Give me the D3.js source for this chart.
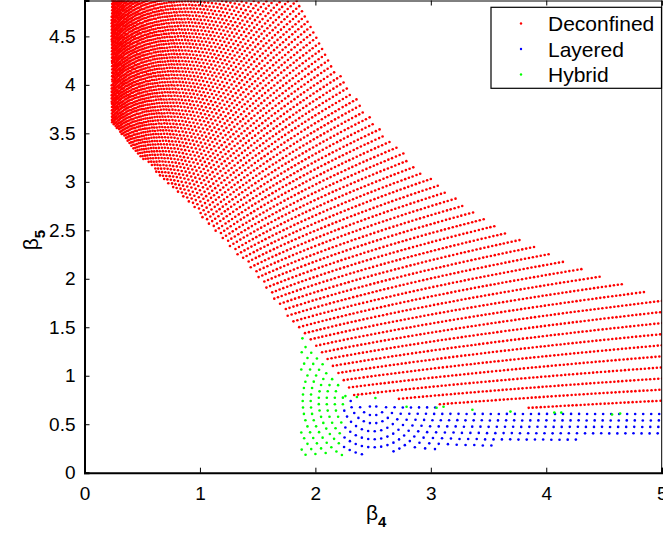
<!DOCTYPE html>
<html>
<head>
<meta charset="utf-8">
<script src="https://cdn.jsdelivr.net/npm/d3@7"></script>
<style>
body { margin:0; background:#fff; }
text { font-family: "Liberation Sans", Arial, sans-serif; fill:#000; }
</style>
</head>
<body>
<svg id="plot"></svg>
<script>
// axis ticks
var xTicks = [0,1,2,3,4,5]
var yTicks = [0,0.5,1,1.5,2,2.5,3,3.5,4,4.5]
var legendNames = ["Deconfined","Layered","Hybrid"]
var legendColors = ["#ff0000","#0000ff","#00ff00"]

// deconfined rows: b5 = c * b4^rowPower, c from rowC[0] to rowC[1]
var rowPower = 0.4
var rowC = [0.33, 8.8]
var rowCount = 142
var rowDotGap = 4.0      // px between dots along a row
var outerProduct = 9.1   // outer edge b4*b5

// edges (b4,b5)
var deconfEdge = [[0.236,6],[0.236,3.62],[0.42,3.34],[1.0,2.66],[1.52,2.0],[1.78,1.56],[1.93,1.37],[2.10,1.13],[2.24,0.91],[2.32,0.79]]
var redBottom = [[2.3,0.79],[2.9,0.75],[3.2,0.67],[5.1,0.66]]
var blueTop = [[2.2,0.75],[2.9,0.71],[3.2,0.635],[5.1,0.625]]
var bottomSlope = 0.079   // lowest points lie on b5 = 0.079*b4
var hybridLeft = 1.86
var hybridTop = 1.42
var layeredLeft = 2.24

// layered / hybrid arcs around a centre
var arcCentre = [2.5,0.74]
var arcGap = 8     // px between arcs
var arcDotGap = 6.5  // px between dots on an arc

// lone hybrid points on the deconfined/layered edge
var hybridExtra = [[2.26,0.79],[2.36,0.78],[2.52,0.77],[2.79,0.68],[3.05,0.67],[3.11,0.68],[3.36,0.65],[3.69,0.63],[4.07,0.62],[4.13,0.62],[4.57,0.60],[4.64,0.61]]

var screen = {width:663,height:538}
var margins = {left:84.5,right:1.3,top:0.5,bottom:65.3}
var yTop = 4.87

var svg = d3.select("#plot").attr("width",screen.width).attr("height",screen.height)

var xScale = d3.scaleLinear().domain([0,5]).range([margins.left,screen.width-margins.right])
var yScale = d3.scaleLinear().domain([0,yTop]).range([screen.height-margins.bottom,margins.top])

// piecewise lines through the read edges
var lineAtX = function(pts,x) {
    if (x<=pts[0][0]) return pts[0][1]
    for (var i=0;i<pts.length-1;i++) {
        if (x<=pts[i+1][0]) {
            var t=(x-pts[i][0])/(pts[i+1][0]-pts[i][0])
            return pts[i][1]+t*(pts[i+1][1]-pts[i][1])
        }
    }
    return pts[pts.length-1][1]
}
var edgeX = function(b5) {
    for (var i=0;i<deconfEdge.length-1;i++) {
        var a=deconfEdge[i], b=deconfEdge[i+1]
        if (b5<=a[1] && b5>=b[1]) return a[0]+(a[1]-b5)/(a[1]-b[1])*(b[0]-a[0])
    }
    return 99
}
var isRed = function(x,y) {
    if (x*y>outerProduct || x>5.05 || y>yTop+0.05) return false
    if (y<lineAtX(redBottom,x)) return false
    if (y>=0.79) return x>=edgeX(y)
    return x>=2.3
}

var points = []

// deconfined rows
var cStep = (rowC[1]-rowC[0])/(rowCount-1)
for (var r=0;r<rowCount;r++) {
    var c = rowC[0]+r*cStep
    var run = 0, px0 = xScale(0.2), py0 = yScale(c*Math.pow(0.2,rowPower)), next = rowDotGap
    for (var x=0.2; x<=5.1; x+=0.002) {
        var y = c*Math.pow(x,rowPower)
        if (y>yTop+0.3) break
        var px = xScale(x), py = yScale(y)
        run += Math.hypot(px-px0,py-py0)
        px0=px; py0=py
        if (run>=next) {
            next += rowDotGap
            if (isRed(x,y)) points.push({b4:x,b5:y,phase:0})
        }
    }
}

// layered and hybrid arcs
var cx = xScale(arcCentre[0]), cy = yScale(arcCentre[1])
for (var rad=arcGap*0.8; rad<320; rad+=arcGap) {
    var n = Math.max(6,Math.round(2*Math.PI*rad/arcDotGap))
    for (var k=0;k<n;k++) {
        var a = 2*Math.PI*k/n
        var b4 = xScale.invert(cx+rad*Math.cos(a)), b5 = yScale.invert(cy+rad*Math.sin(a))
        if (b5<bottomSlope*b4 || b4>5.05) continue
        if (b4>=layeredLeft) {
            if (b5<=lineAtX(blueTop,b4)) points.push({b4:b4,b5:b5,phase:1})
        } else if (b4>=hybridLeft && b5<=hybridTop && b4<edgeX(Math.max(b5,0.8))-0.02) {
            points.push({b4:b4,b5:b5,phase:2})
        }
    }
}
hybridExtra.forEach(function(p){ points.push({b4:p[0],b5:p[1],phase:2}) })

svg.append("clipPath").attr("id","clip").append("rect")
    .attr("x",xScale(0)).attr("y",yScale(yTop))
    .attr("width",xScale(5)-xScale(0)).attr("height",yScale(0)-yScale(yTop))

svg.append("g").attr("clip-path","url(#clip)")
    .selectAll("circle")
    .data(points)
    .enter()
    .append("circle")
    .attr("cx",function(d){return xScale(d.b4)})
    .attr("cy",function(d){return yScale(d.b5)})
    .attr("r",1.3)
    .attr("fill",function(d){return legendColors[d.phase]})

// axes
var xAxis = d3.axisBottom(xScale).tickValues(xTicks).tickSize(-5).tickPadding(14).tickFormat(d3.format("d"))
var yAxis = d3.axisLeft(yScale).tickValues(yTicks).tickSize(-5).tickPadding(9).tickFormat(function(d){return String(d)})

var gx = svg.append("g").attr("transform","translate(0,"+yScale(0)+")").call(xAxis)
var gy = svg.append("g").attr("transform","translate("+xScale(0)+",0)").call(yAxis)
svg.append("g").attr("transform","translate(0,"+yScale(yTop)+")")
    .call(d3.axisTop(xScale).tickValues(xTicks).tickSize(-5).tickFormat(""))

svg.selectAll(".domain").attr("stroke","#000").attr("stroke-width",1)
gx.select(".domain").attr("stroke-width",2)
gy.select(".domain").attr("stroke-width",2)
svg.selectAll(".tick line").attr("stroke","#000")
svg.selectAll(".tick text").attr("font-size",19).attr("font-family","Liberation Sans, Arial, sans-serif")
svg.append("line").attr("x1",xScale(5)).attr("x2",xScale(5)).attr("y1",yScale(0)).attr("y2",yScale(yTop)).attr("stroke","#000")

// axis labels
var xl = svg.append("text").attr("x",366).attr("y",520).attr("font-size",21)
xl.append("tspan").text("β")
xl.append("tspan").text("4").attr("font-size",15).attr("font-weight","bold").attr("dy",7)

var yl = svg.append("text").attr("transform","translate(38,240) rotate(-90)").attr("font-size",21).attr("text-anchor","middle")
yl.append("tspan").text("β")
yl.append("tspan").text("5").attr("font-size",15).attr("font-weight","bold").attr("dy",7)

// legend
var legend = svg.append("g")
legend.append("rect").attr("x",491).attr("y",7.3).attr("width",170.5).attr("height",81)
    .attr("fill","#fff").attr("stroke","#000").attr("stroke-width",1.2)
legendNames.forEach(function(name,i){
    legend.append("circle").attr("cx",521).attr("cy",23.5+25.5*i).attr("r",1.2).attr("fill",legendColors[i])
    legend.append("text").attr("x",548).attr("y",31+25.5*i).attr("font-size",21).text(name)
})
</script>
</body>
</html>
